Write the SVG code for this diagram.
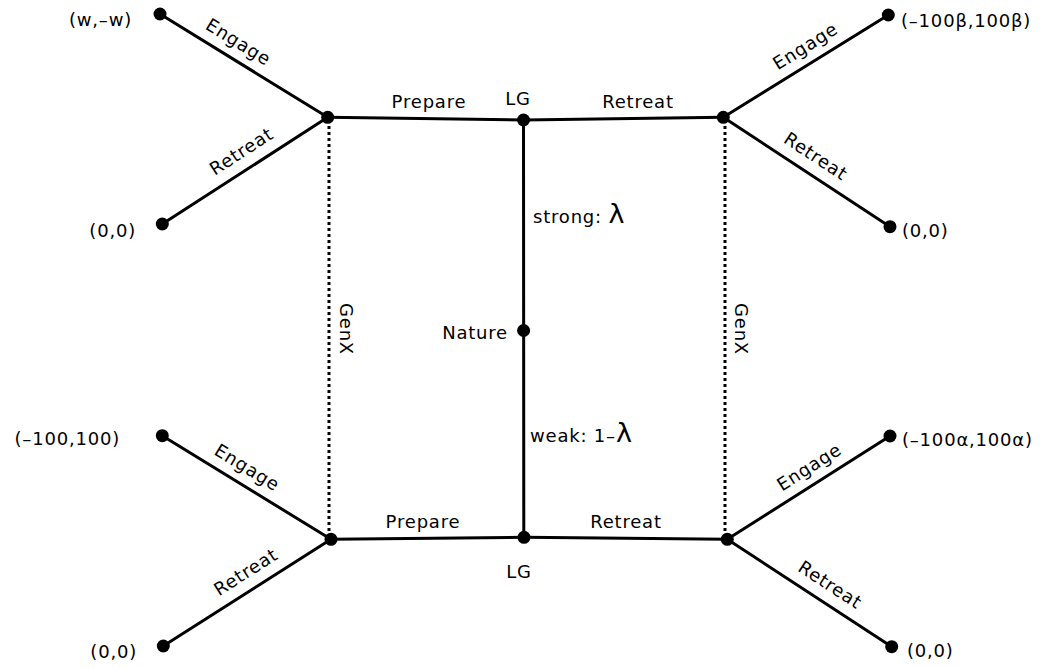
<svg xmlns="http://www.w3.org/2000/svg" width="1050" height="668" viewBox="0 0 1050 668">
<style>
text{font-family:"DejaVu Sans","Liberation Sans",sans-serif;font-size:18px;letter-spacing:0.8px;fill:#000}
.e{stroke:#000;stroke-width:3;fill:none;stroke-linecap:round}
.d{stroke:#000;stroke-width:3;fill:none;stroke-dasharray:3 3}
.n{fill:#000}
.m{text-anchor:middle}
.r{text-anchor:end}
.big{font-size:27px;letter-spacing:0}
</style>
<rect width="1050" height="668" fill="#fff"/>
<g id="connectors">
<line class="d" x1="329" y1="120" x2="329" y2="538"/>
<line class="d" x1="725" y1="120" x2="725" y2="538"/>
<line class="e" x1="160" y1="14" x2="327.7" y2="117.3"/>
<line class="e" x1="162.3" y1="224" x2="327.7" y2="117.3"/>
<line class="e" x1="327.7" y1="117.3" x2="523.5" y2="120"/>
<line class="e" x1="523.5" y1="120" x2="723.3" y2="117.3"/>
<line class="e" x1="723.3" y1="117.3" x2="888.3" y2="15"/>
<line class="e" x1="723.3" y1="117.3" x2="890" y2="226.7"/>
<line class="e" x1="523.5" y1="120" x2="523.8" y2="537.3"/>
<line class="e" x1="162.3" y1="435.7" x2="331" y2="539.3"/>
<line class="e" x1="163.3" y1="646" x2="331" y2="539.3"/>
<line class="e" x1="331" y1="539.3" x2="524" y2="537.3"/>
<line class="e" x1="524" y1="537.3" x2="727.3" y2="539.3"/>
<line class="e" x1="727.3" y1="539.3" x2="890" y2="436"/>
<line class="e" x1="727.3" y1="539.3" x2="891.7" y2="646.7"/>
<text class="m" transform="translate(229.4,56.7) rotate(31.6)" y="-11">Engage</text>
<text class="m" transform="translate(251.3,166.6) rotate(-32.8)" y="-12">Retreat</text>
<text class="m" x="429" y="108">Prepare</text>
<text class="m" x="638" y="108">Retreat</text>
<text class="m" transform="translate(814.4,60.8) rotate(-31.8)" y="-11">Engage</text>
<text class="m" transform="translate(805.8,171.5) rotate(33.3)" y="-12">Retreat</text>
<text x="533" y="223">strong: <tspan class="big">λ</tspan></text>
<text x="530" y="442">weak: 1–<tspan class="big">λ</tspan></text>
<text class="m" transform="translate(340,329) rotate(90)">GenX</text>
<text class="m" transform="translate(735,329) rotate(90)">GenX</text>
<text class="m" transform="translate(238.1,482.2) rotate(31.6)" y="-11">Engage</text>
<text class="m" transform="translate(255.6,587.3) rotate(-32.5)" y="-12">Retreat</text>
<text class="m" x="423" y="528">Prepare</text>
<text class="m" x="626" y="528">Retreat</text>
<text class="m" transform="translate(818.4,481.5) rotate(-32.4)" y="-11">Engage</text>
<text class="m" transform="translate(820.2,600) rotate(33.2)" y="-12">Retreat</text>
</g>
<g id="t1"><circle class="n" cx="160" cy="14" r="6.5"/><text class="r" x="132" y="26">(w,–w)</text></g>
<g id="t2"><circle class="n" cx="162.3" cy="224" r="6.5"/><text class="r" x="136" y="237">(0,0)</text></g>
<g id="genx-top-left"><circle class="n" cx="327.7" cy="117.3" r="6.5"/></g>
<g id="lg-top"><circle class="n" cx="523.5" cy="120" r="6.5"/><text class="m" x="518" y="105">LG</text></g>
<g id="genx-top-right"><circle class="n" cx="723.3" cy="117.3" r="6.5"/></g>
<g id="t3"><circle class="n" cx="888.3" cy="15" r="6.5"/><text x="901" y="27">(–100β,100β)</text></g>
<g id="t4"><circle class="n" cx="890" cy="226.7" r="6.5"/><text x="902" y="237">(0,0)</text></g>
<g id="nature"><circle class="n" cx="523.6" cy="330.5" r="6.5"/><text class="r" x="508" y="339">Nature</text></g>
<g id="lg-bottom"><circle class="n" cx="524" cy="537.3" r="6.5"/><text class="m" x="519" y="578">LG</text></g>
<g id="genx-bottom-left"><circle class="n" cx="331" cy="539.3" r="6.5"/></g>
<g id="genx-bottom-right"><circle class="n" cx="727.3" cy="539.3" r="6.5"/></g>
<g id="t5"><circle class="n" cx="162.3" cy="435.7" r="6.5"/><text class="r" x="120" y="445">(–100,100)</text></g>
<g id="t6"><circle class="n" cx="163.3" cy="646" r="6.5"/><text class="r" x="137" y="658">(0,0)</text></g>
<g id="t7"><circle class="n" cx="890" cy="436" r="6.5"/><text x="902" y="446">(–100α,100α)</text></g>
<g id="t8"><circle class="n" cx="891.7" cy="646.7" r="6.5"/><text x="907" y="657">(0,0)</text></g>
</svg>
